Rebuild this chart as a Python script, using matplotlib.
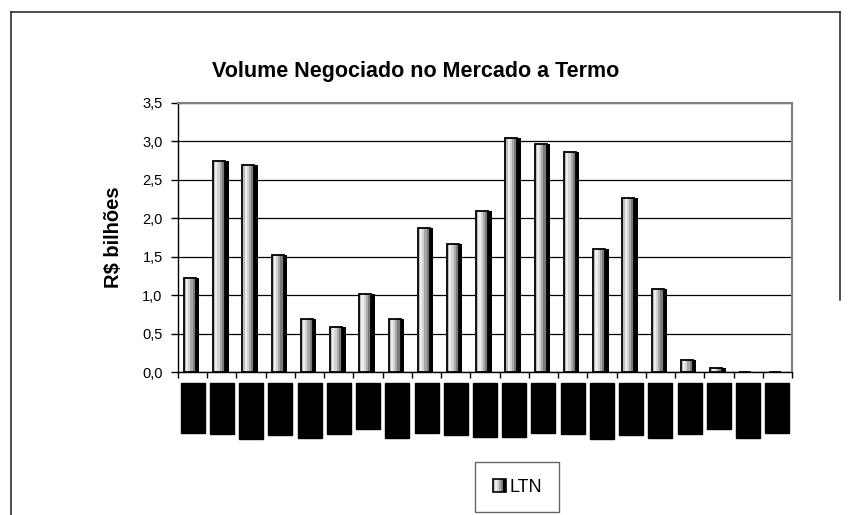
import matplotlib
matplotlib.use("Agg")
import matplotlib.pyplot as plt
import numpy as np
from matplotlib.patches import Rectangle
from matplotlib.legend_handler import HandlerBase
from matplotlib.lines import Line2D
from matplotlib.ticker import FuncFormatter, FixedLocator

# ---- data ----
categories = ['jan/02', 'fev/02', 'mar/02', 'abr/02', 'mai/02', 'jun/02', 'jul/02',
              'ago/02', 'set/02', 'out/02', 'nov/02', 'dez/02', 'jan/03', 'fev/03',
              'mar/03', 'abr/03', 'mai/03', 'jun/03', 'jul/03', 'ago/03', 'set/03']
ltn = [1.22, 2.75, 2.69, 1.52, 0.69, 0.58, 1.02, 0.69, 1.88, 1.66, 2.10,
       3.05, 2.97, 2.86, 1.60, 2.27, 1.08, 0.16, 0.05, 0.0, 0.0]
series_name = 'LTN'
title = 'Volume Negociado no Mercado a Termo'
ylabel = 'R$ bilhões'
yticks = [0.0, 0.5, 1.0, 1.5, 2.0, 2.5, 3.0, 3.5]

plt.rcParams['font.family'] = ['Liberation Sans', 'DejaVu Sans']

fig = plt.figure(figsize=(8.52, 5.15), dpi=100)
ax = fig.add_axes([178/852, 1-372/515, (792-178)/852, (372-103)/515])

x = np.arange(len(categories))
strip_cols = ['#bdbdbd', '#eeeeee', '#d4d4d4', '#a8a8a8', '#7a7a7a']
strip_w = [0.075, 0.075, 0.075, 0.075, 0.11]
shadow_w = 0.12
left = -0.30
off = left
for c, w in zip(strip_cols, strip_w):
    ax.bar(x + off, ltn, width=w, color=c, align='edge', linewidth=0, zorder=3)
    off += w
body_w = sum(strip_w)
ax.bar(x + left, ltn, width=body_w, fill=False, edgecolor='black', linewidth=1.3,
       align='edge', zorder=4)
ax.bar(x + left + body_w, ltn, width=shadow_w, color='black', align='edge', linewidth=0,
       zorder=4)

ax.set_xlim(-0.5, len(categories) - 0.5)
ax.set_ylim(0, 3.5)
ax.yaxis.set_major_locator(FixedLocator(yticks))
ax.yaxis.set_major_formatter(FuncFormatter(lambda v, p: f'{v:.1f}'.replace('.', ',')))
ax.grid(axis='y', color='black', linewidth=0.9, zorder=0)
ax.set_axisbelow(True)
ax.tick_params(axis='y', direction='out', length=5, width=1, labelsize=10.5, pad=6)

ax.set_xticks(x)
ax.set_xticklabels(categories, rotation=90, fontsize=9, color='black',
                   family='DejaVu Sans')
for lab in ax.get_xticklabels():
    lab.set_bbox(dict(facecolor='black', edgecolor='black', pad=4.0))
ax.tick_params(axis='x', which='major', length=0, pad=12)
ax.set_xticks(np.arange(-0.5, len(categories), 1.0), minor=True)
ax.tick_params(axis='x', which='minor', direction='out', length=4, width=1)

for s in ['top', 'right']:
    ax.spines[s].set_color('#808080')
    ax.spines[s].set_linewidth(1.5)
for s in ['left', 'bottom']:
    ax.spines[s].set_color('black')
    ax.spines[s].set_linewidth(1)

ax.set_ylabel(ylabel, fontsize=14.5, fontweight='bold', labelpad=14)
fig.text(416/852, 1-72/515, title, ha='center', va='center', fontsize=15.5,
         fontweight='bold')


class CylHandler(HandlerBase):
    def create_artists(self, legend, orig_handle, xdescent, ydescent, width, height,
                       fontsize, trans):
        arts = []
        s = min(width, height) * 1.0
        x0 = xdescent + width - s
        y0 = -ydescent + (height - s) / 2
        tot = sum(strip_w) + shadow_w
        xx = x0
        for c, w in zip(strip_cols, strip_w):
            r = Rectangle((xx, y0), s * w / tot, s, facecolor=c, edgecolor='none',
                          transform=trans)
            arts.append(r)
            xx += s * w / tot
        arts.append(Rectangle((xx, y0), s * shadow_w / tot, s, facecolor='black',
                              edgecolor='none', transform=trans))
        arts.append(Rectangle((x0, y0), s, s, facecolor='none', edgecolor='black',
                              linewidth=1.2, transform=trans))
        return arts


proxy = Rectangle((0, 0), 1, 1)
leg = fig.legend([proxy], [series_name], handler_map={Rectangle: CylHandler()},
                 loc='center', bbox_to_anchor=(517/852, 1-487/515), frameon=True,
                 fancybox=False, edgecolor='#404040', fontsize=13,
                 handlelength=0.8, handletextpad=0.2, borderpad=0.9)
leg.get_frame().set_linewidth(1)

# outer chart frame
fx = 11/852
fig.add_artist(Line2D([fx, fx], [0, 1-12/515], color='#303030', lw=1.2,
                      transform=fig.transFigure))
fig.add_artist(Line2D([fx, 840/852], [1-12/515, 1-12/515], color='#303030', lw=1.2,
                      transform=fig.transFigure))
fig.add_artist(Line2D([840/852, 840/852], [1-12/515, 1-300/515], color='#303030', lw=1.2,
                      transform=fig.transFigure))

fig.savefig('out.png', dpi=100)
